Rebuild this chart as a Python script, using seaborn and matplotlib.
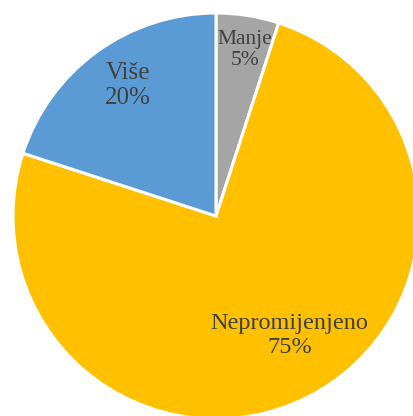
import matplotlib.pyplot as plt
import numpy as np
import seaborn as sns

categories = ["Manje", "Nepromijenjeno", "Više"]
shares = [5, 75, 20]
colors = ["#A5A5A5", "#FFC000", "#5B9BD5"]
label_radius = [0.83, 0.69, 0.775]
label_shift = [-1, 4.7, -2]  # degrees away from the wedge middle
label_size = [15.5, 17.5, 18]

sns.set_theme(style="white")
plt.rcParams["font.family"] = ["Liberation Serif", "DejaVu Serif"]

fig = plt.figure(figsize=(4.14, 4.16), dpi=100)
ax = fig.add_axes([0, 0, 1, 1])

# pie centre and radius in pixels of the reference
cx, cy, r = 216, 216, 203
wedges, _ = ax.pie(
    shares,
    colors=colors,
    startangle=90,
    counterclock=False,
    radius=1,
    wedgeprops=dict(edgecolor="white", linewidth=2.2),
)

for w, name, val, rad, sh, fs in zip(
    wedges, categories, shares, label_radius, label_shift, label_size
):
    mid = np.deg2rad((w.theta1 + w.theta2) / 2 + sh)
    ax.text(
        rad * np.cos(mid),
        rad * np.sin(mid),
        f"{name}\n{val}%",
        ha="center",
        va="center",
        fontsize=fs,
        color="#404040",
        linespacing=1.2,
    )

ax.set_xlim(-cx / r, (414 - cx) / r)
ax.set_ylim(-(416 - cy) / r, cy / r)
ax.set_aspect("auto")
ax.axis("off")

plt.savefig("out.png", dpi=100)
plt.close(fig)
